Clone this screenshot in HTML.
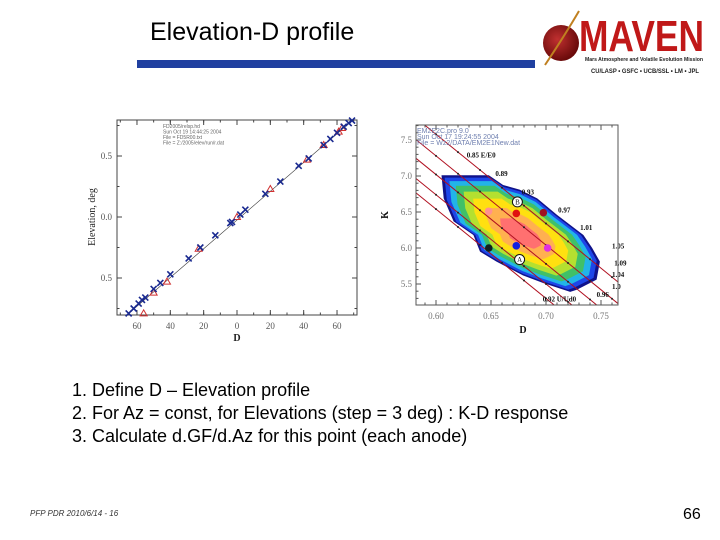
<!DOCTYPE html>
<html><head><meta charset="utf-8">
<style>
html,body{margin:0;padding:0;background:#fff;}
#slide{position:relative;width:720px;height:540px;overflow:hidden;font-family:"Liberation Sans",sans-serif;}
.t{position:absolute;white-space:nowrap;}
</style></head>
<body>
<div id="slide">
<div class="t" style="left:150px;top:18px;font-size:25px;color:#000;">Elevation-D profile</div>
<div style="position:absolute;left:137px;top:60px;width:398px;height:8px;background:#2040a0;"></div>
<svg style="position:absolute;left:535px;top:5px" width="180" height="75">
 <defs><radialGradient id="sph" cx="0.4" cy="0.4" r="0.6"><stop offset="0" stop-color="#c03030"/><stop offset="1" stop-color="#6a0a0a"/></radialGradient></defs>
 <circle cx="26" cy="38" r="18" fill="url(#sph)"/>
 <path d="M10 60 Q30 30 44 6" stroke="#c08020" stroke-width="2" fill="none"/>
 <text x="44" y="46" font-family="Liberation Sans,sans-serif" font-weight="bold" font-size="44" fill="#c01818" textLength="125" lengthAdjust="spacingAndGlyphs">MAVEN</text>
 <text x="50" y="56" font-family="Liberation Sans,sans-serif" font-size="5.5" font-weight="bold" fill="#222" textLength="118" lengthAdjust="spacingAndGlyphs">Mars Atmosphere and Volatile Evolution Mission</text>
 <text x="56" y="68" font-family="Liberation Sans,sans-serif" font-size="6" font-weight="bold" fill="#222" textLength="108" lengthAdjust="spacingAndGlyphs">CU/LASP • GSFC • UCB/SSL • LM • JPL</text>
</svg>

<svg id="left" style="position:absolute;left:0;top:0" width="720" height="540"></svg>

<div class="t" style="left:72px;top:380px;font-size:18px;">1. Define D – Elevation profile</div>
<div class="t" style="left:72px;top:403px;font-size:18px;">2. For Az = const, for Elevations (step = 3 deg) : K-D response</div>
<div class="t" style="left:72px;top:426px;font-size:18px;">3. Calculate d.GF/d.Az for this point (each anode)</div>
<div class="t" style="left:30px;top:509px;font-size:8px;font-style:italic;color:#333;">PFP PDR 2010/6/14 - 16</div>
<div class="t" style="left:683px;top:506px;font-size:16px;">66</div>
</div>
<script>
// ---- Left chart data ----
const blueD = [-65,-62,-59,-57,-55,-50,-46,-40,-29,-22,-13,-4,-3,2,5,17,26,37,43,52,56,60,64,67,69];
const blueE = [-7.9,-7.5,-7.1,-6.8,-6.6,-5.9,-5.4,-4.7,-3.4,-2.5,-1.5,-0.5,-0.4,0.2,0.6,1.9,2.9,4.2,4.8,5.9,6.4,6.9,7.4,7.7,7.9];
const redD = [-56,-50,-42,-23,0,20,42,52,61,63];
const redE = [-7.9,-6.2,-5.3,-2.6,0.0,2.3,4.7,5.9,7.0,7.3];
const leftXTicks = [-60,-40,-20,0,20,40,60];
const leftXLabels = ["60","40","20","0","20","40","60"];
const leftYTicks = [-5,0,5];
const leftYLabels = ["0.5","0.0","0.5"];
// ---- Right chart data ----
const rXTicks = [0.60,0.65,0.70,0.75];
const rYTicks = [5.5,6.0,6.5,7.0,7.5];
const contourOuter = [[0.605,7.01],[0.648,7.01],[0.661,6.875],[0.676,6.81],[0.692,6.69],[0.710,6.46],[0.734,6.18],[0.742,6.0],[0.749,5.81],[0.746,5.56],[0.728,5.42],[0.722,5.39],[0.698,5.51],[0.679,5.62],[0.655,5.81],[0.640,5.95],[0.634,6.18],[0.616,6.37],[0.607,6.69]];
const contourLevels = [1.0,0.96,0.9,0.82,0.72,0.6,0.44,0.26];
const contourColors = ["#10128a","#1e46e8","#22b4e8","#40c068","#b4e030","#ffe010","#ffb050","#ff7070"];
const lineK0 = [7.58,7.28,7.02,6.74,6.54];
const lineSlope = -12.4;
const isoLabels = ["0.85  E/E0","0.89","0.93","0.97","1.01","1.05","1.09","1.04","1.0","0.96","0.92 U/Ud0"];
const isoLabelD = [0.628,0.654,0.678,0.711,0.731,0.760,0.762,0.760,0.760,0.746,0.697];
const isoLabelK = [7.26,7.0,6.74,6.49,6.25,5.99,5.76,5.6,5.43,5.32,5.26];
const ptD = [0.673,0.6976,0.6478,0.673,0.7015,0.648];
const ptK = [6.48,6.49,6.51,6.03,6.0,6.0];
const ptColor = ["#e01010","#a01020","#ff9090","#1020e0","#e030e0","#102020"];

const NS="http://www.w3.org/2000/svg";
const svg=document.getElementById('left');
function mk(tag,attrs,parent){const e=document.createElementNS(NS,tag);for(const k in attrs)e.setAttribute(k,attrs[k]);(parent||svg).appendChild(e);return e;}
function tx(x,y,s,size,anchor,fill,extra,parent){const e=mk('text',Object.assign({x:x,y:y,'font-size':size,'text-anchor':anchor||'middle',fill:fill||'#333','font-family':'Liberation Serif,serif'},extra||{}),parent);e.textContent=s;return e;}

// Left axes
const L={x0:117,x1:357,y0:120,y1:315};
const lx=d=>237+d*1.667, ly=v=>217-v*12.2;
let g=mk('g',{});


mk('rect',{x:L.x0,y:L.y0,width:L.x1-L.x0,height:L.y1-L.y0,fill:'none',stroke:'#444','stroke-width':1},g);
leftXTicks.forEach((t,i)=>{const x=lx(t);mk('line',{x1:x,y1:L.y1,x2:x,y2:L.y1-5,stroke:'#444'},g);mk('line',{x1:x,y1:L.y0,x2:x,y2:L.y0+5,stroke:'#444'},g);
 const e=tx(x,329,leftXLabels[i],9,'middle','#555');});
for(let d=-70;d<=70;d+=10){const x=lx(d);if(x>L.x0&&x<L.x1){mk('line',{x1:x,y1:L.y1,x2:x,y2:L.y1-2.5,stroke:'#444'},g);mk('line',{x1:x,y1:L.y0,x2:x,y2:L.y0+2.5,stroke:'#444'},g);}}
leftYTicks.forEach((t,i)=>{const y=ly(t);mk('line',{x1:L.x0,y1:y,x2:L.x0+5,y2:y,stroke:'#444'},g);mk('line',{x1:L.x1,y1:y,x2:L.x1-5,y2:y,stroke:'#444'},g);
 const e=tx(L.x0-5,y+3,leftYLabels[i],9,'end','#555');});
for(let v=-7.5;v<=7.5;v+=2.5){const y=ly(v);mk('line',{x1:L.x0,y1:y,x2:L.x0+2.5,y2:y,stroke:'#444'},g);mk('line',{x1:L.x1,y1:y,x2:L.x1-2.5,y2:y,stroke:'#444'},g);}
let e=tx(237,341,'D',10,'middle','#222',{'font-weight':'bold'});

e=tx(95,217,'Elevation, deg',10,'middle','#222',{transform:'rotate(-90 95 217)'});

["FD2005/relsp.hd","Sun Oct 19 14:44:25 2004","File = FD5R00.txt","File = Z:/2005/elev/run/r.dat"].forEach((s,i)=>{const t=tx(163,128+i*5.5,s,5,'start','#666',{'font-family':'Liberation Sans,sans-serif'});});
const fl=mk('line',{x1:lx(-66),y1:ly(-7.9*66/65),x2:lx(70),y2:ly(8.0),stroke:'#333','stroke-width':0.6});

redD.forEach((d,i)=>{const x=lx(d),y=ly(redE[i]);const p=mk('polygon',{points:`${x},${y-3.5} ${x-3.5},${y+2.5} ${x+3.5},${y+2.5}`,fill:'none',stroke:'#d03030','stroke-width':1});
 });
blueD.forEach((d,i)=>{const x=lx(d),y=ly(blueE[i]);const p=mk('path',{d:`M${x-3},${y-3}L${x+3},${y+3}M${x-3},${y+3}L${x+3},${y-3}`,stroke:'#1a2a90','stroke-width':1.6});
 });

// Right chart
const R={x0:416,x1:618,y0:125,y1:305};
const rx=d=>436+(d-0.60)*1100, ry=k=>248-(k-6.0)*72;
const rc=mk('g',{});

const cp=mk('clipPath',{id:'rclip'},rc);mk('rect',{x:R.x0,y:R.y0,width:R.x1-R.x0,height:R.y1-R.y0},cp);
const inner=mk('g',{'clip-path':'url(#rclip)'},rc);
const cD=0.677,cK=6.2;
contourLevels.forEach((s,i)=>{const pts=contourOuter.map(p=>rx(cD+(p[0]-cD)*s)+','+ry(cK+(p[1]-cK)*s)).join(' ');
 const p=mk('polygon',{points:pts,fill:contourColors[i]},inner);});
lineK0.forEach((k0,i)=>{const l=mk('line',{x1:rx(0.58),y1:ry(k0+lineSlope*(0.58-0.6)),x2:rx(0.77),y2:ry(k0+lineSlope*(0.77-0.6)),stroke:'#b01020','stroke-width':1},inner);
 
 for(let d=0.60;d<0.77;d+=0.02){mk('circle',{cx:rx(d),cy:ry(k0+lineSlope*(d-0.6)),r:1,fill:'#222'},inner);}});
isoLabels.forEach((s,i)=>{const t=tx(rx(isoLabelD[i]),ry(isoLabelK[i]),s,7,'start','#111',{'font-weight':'bold'},rc);
 });
ptD.forEach((d,i)=>{const c=mk('circle',{cx:rx(d),cy:ry(ptK[i]),r:3.8,fill:ptColor[i]},rc);});
[["B",0.674,6.64],["A",0.676,5.84]].forEach(a=>{const c=mk('circle',{cx:rx(a[1]),cy:ry(a[2]),r:5,fill:'#fff',stroke:'#111'},rc);
 const t=tx(rx(a[1]),ry(a[2])+2.5,a[0],7,'middle','#111',null,rc);});
const fr=mk('rect',{x:R.x0,y:R.y0,width:R.x1-R.x0,height:R.y1-R.y0,fill:'none',stroke:'#555'},rc);

rXTicks.forEach(t=>{const x=rx(t);mk('line',{x1:x,y1:R.y1,x2:x,y2:R.y1-5,stroke:'#555'},rc);mk('line',{x1:x,y1:R.y0,x2:x,y2:R.y0+5,stroke:'#555'},rc);
 const l=tx(x,319,t.toFixed(2),9,'middle','#777',null,rc);});
for(let d=0.59;d<0.77;d+=0.01){const x=rx(d);mk('line',{x1:x,y1:R.y1,x2:x,y2:R.y1-2.5,stroke:'#555'},rc);mk('line',{x1:x,y1:R.y0,x2:x,y2:R.y0+2.5,stroke:'#555'},rc);}
rYTicks.forEach(t=>{const y=ry(t);mk('line',{x1:R.x0,y1:y,x2:R.x0+5,y2:y,stroke:'#555'},rc);
 const l=tx(R.x0-4,y+3,t.toFixed(1),9,'end','#777',null,rc);});
for(let k=5.3;k<7.7;k+=0.1){const y=ry(k);mk('line',{x1:R.x0,y1:y,x2:R.x0+2.5,y2:y,stroke:'#555'},rc);}
e=tx(523,333,'D',10,'middle','#111',{'font-weight':'bold'});
e=tx(388,215,'K',10,'middle','#111',{'font-weight':'bold',transform:'rotate(-90 388 215)'});
["EM2E2C.pro 9.0","Sun Oct 17 19:24:55 2004","File = Wz2/DATA/EM2E1New.dat"].forEach((s,i)=>{const t=tx(417,133+i*6,s,7,'start','#7080b0',{'font-family':'Liberation Sans,sans-serif'});});
</script>
</body></html>
